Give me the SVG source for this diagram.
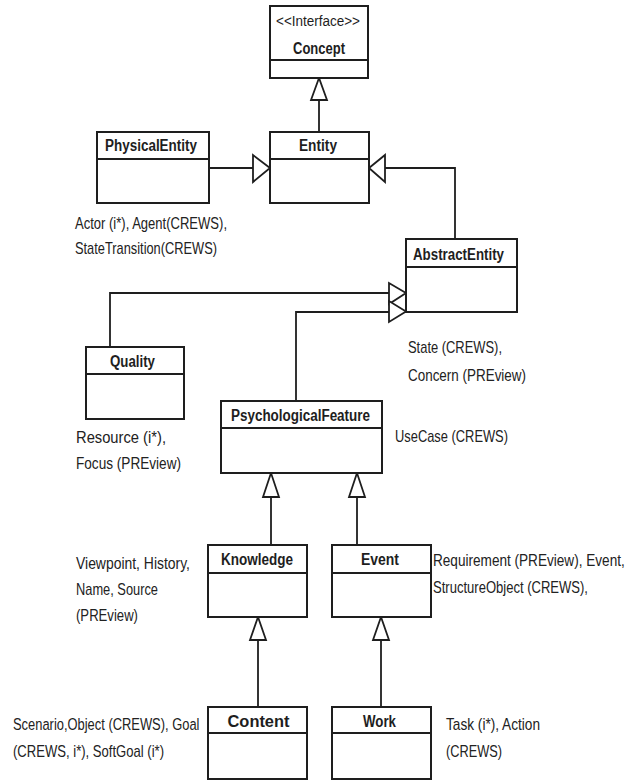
<svg xmlns="http://www.w3.org/2000/svg" width="634" height="781" viewBox="0 0 634 781">
<style>
.box{fill:#fff;stroke:#1e1e1e;stroke-width:2}
.div{stroke:#1e1e1e;stroke-width:2}
.name{font-family:"Liberation Sans",Arial,sans-serif;font-weight:bold;font-size:16px;fill:#1e1e1e;text-anchor:middle}
.ster{font-family:"Liberation Sans",Arial,sans-serif;font-size:14px;fill:#1e1e1e;text-anchor:middle}
.note{font-family:"Liberation Sans",Arial,sans-serif;font-size:17px;fill:#222}
.ln{fill:none;stroke:#1e1e1e;stroke-width:1.8}
.tri{fill:#fff;stroke:#1e1e1e;stroke-width:1.8;stroke-linejoin:miter}
</style>
<rect width="634" height="781" fill="#fff"/>
<g id="connectors">
<path class="ln" d="M319,100 V132"/>
<path class="ln" d="M209,168 H253"/>
<path class="ln" d="M385,168 H455 V239"/>
<path class="ln" d="M110,347 V293 H389"/>
<path class="ln" d="M296,401 V312 H389"/>
<path class="ln" d="M271,497 V545"/>
<path class="ln" d="M357,497 V545"/>
<path class="ln" d="M258,640 V707"/>
<path class="ln" d="M381,640 V707"/>
<polygon class="tri" points="319,78 311,100 327,100"/>
<polygon class="tri" points="270,168 253,155 253,182"/>
<polygon class="tri" points="369,168 385,155 385,182"/>
<polygon class="tri" points="406,293 389,283 389,304"/>
<polygon class="tri" points="406,311.5 389,301 389,322"/>
<polygon class="tri" points="271,473 263,497 279,497"/>
<polygon class="tri" points="357,473 349,497 365,497"/>
<polygon class="tri" points="258,617 250,640 266,640"/>
<polygon class="tri" points="381,617 373,640 389,640"/>
</g>
<g id="Concept">
<rect class="box" x="270" y="6" width="98" height="72"/>
<line class="div" x1="270" y1="60" x2="368" y2="60"/>
<text class="ster" x="318" y="26" textLength="84" lengthAdjust="spacingAndGlyphs">&lt;&lt;Interface&gt;&gt;</text>
<text class="name" x="319" y="54" textLength="52" lengthAdjust="spacingAndGlyphs">Concept</text>
</g>
<g id="PhysicalEntity">
<rect class="box" x="97" y="132" width="112" height="71"/>
<line class="div" x1="97" y1="159" x2="209" y2="159"/>
<text class="name" x="151" y="151" textLength="92" lengthAdjust="spacingAndGlyphs">PhysicalEntity</text>
<text class="note" x="75" y="229" textLength="152" lengthAdjust="spacingAndGlyphs">Actor (i*), Agent(CREWS),</text>
<text class="note" x="75" y="254" textLength="142" lengthAdjust="spacingAndGlyphs">StateTransition(CREWS)</text>
</g>
<g id="Entity">
<rect class="box" x="270" y="132" width="99" height="71"/>
<line class="div" x1="270" y1="159" x2="369" y2="159"/>
<text class="name" x="318" y="151" textLength="38" lengthAdjust="spacingAndGlyphs">Entity</text>
</g>
<g id="AbstractEntity">
<rect class="box" x="406" y="239" width="111" height="73"/>
<line class="div" x1="406" y1="267" x2="517" y2="267"/>
<text class="name" x="458.5" y="260" textLength="91" lengthAdjust="spacingAndGlyphs">AbstractEntity</text>
<text class="note" x="408" y="353" textLength="94" lengthAdjust="spacingAndGlyphs">State (CREWS),</text>
<text class="note" x="408" y="381" textLength="118" lengthAdjust="spacingAndGlyphs">Concern (PREview)</text>
</g>
<g id="Quality">
<rect class="box" x="86" y="347" width="98" height="72"/>
<line class="div" x1="86" y1="374" x2="184" y2="374"/>
<text class="name" x="132.5" y="367" textLength="45" lengthAdjust="spacingAndGlyphs">Quality</text>
<text class="note" x="76" y="443" textLength="90" lengthAdjust="spacingAndGlyphs">Resource (i*),</text>
<text class="note" x="76" y="469" textLength="105" lengthAdjust="spacingAndGlyphs">Focus (PREview)</text>
</g>
<g id="PsychologicalFeature">
<rect class="box" x="221" y="401" width="161" height="72"/>
<line class="div" x1="221" y1="428" x2="382" y2="428"/>
<text class="name" x="300.5" y="421" textLength="139" lengthAdjust="spacingAndGlyphs">PsychologicalFeature</text>
<text class="note" x="395" y="442" textLength="113" lengthAdjust="spacingAndGlyphs">UseCase (CREWS)</text>
</g>
<g id="Knowledge">
<rect class="box" x="208" y="545" width="99" height="72"/>
<line class="div" x1="208" y1="573" x2="307" y2="573"/>
<text class="name" x="257" y="565" textLength="72" lengthAdjust="spacingAndGlyphs">Knowledge</text>
<text class="note" x="76" y="569" textLength="114" lengthAdjust="spacingAndGlyphs">Viewpoint, History,</text>
<text class="note" x="76" y="595" textLength="82" lengthAdjust="spacingAndGlyphs">Name, Source</text>
<text class="note" x="76" y="621" textLength="62" lengthAdjust="spacingAndGlyphs">(PREview)</text>
</g>
<g id="Event">
<rect class="box" x="332" y="545" width="99" height="72"/>
<line class="div" x1="332" y1="573" x2="431" y2="573"/>
<text class="name" x="380" y="565" textLength="38" lengthAdjust="spacingAndGlyphs">Event</text>
<text class="note" transform="translate(433,566) scale(0.8,1)">Requirement (PREview), Event,</text>
<text class="note" x="433" y="593" textLength="155" lengthAdjust="spacingAndGlyphs">StructureObject (CREWS),</text>
</g>
<g id="Content">
<rect class="box" x="208" y="707" width="99" height="72"/>
<line class="div" x1="208" y1="733" x2="307" y2="733"/>
<text class="name" x="258.5" y="727" textLength="62" lengthAdjust="spacingAndGlyphs">Content</text>
<text class="note" transform="translate(13,730) scale(0.76,1)">Scenario,Object (CREWS), Goal</text>
<text class="note" x="13" y="757" textLength="151" lengthAdjust="spacingAndGlyphs">(CREWS, i*), SoftGoal (i*)</text>
</g>
<g id="Work">
<rect class="box" x="332" y="707" width="99" height="72"/>
<line class="div" x1="332" y1="733" x2="431" y2="733"/>
<text class="name" x="379.5" y="727" textLength="33" lengthAdjust="spacingAndGlyphs">Work</text>
<text class="note" x="446" y="730" textLength="94" lengthAdjust="spacingAndGlyphs">Task (i*), Action</text>
<text class="note" x="446" y="757" textLength="56" lengthAdjust="spacingAndGlyphs">(CREWS)</text>
</g>
</svg>
